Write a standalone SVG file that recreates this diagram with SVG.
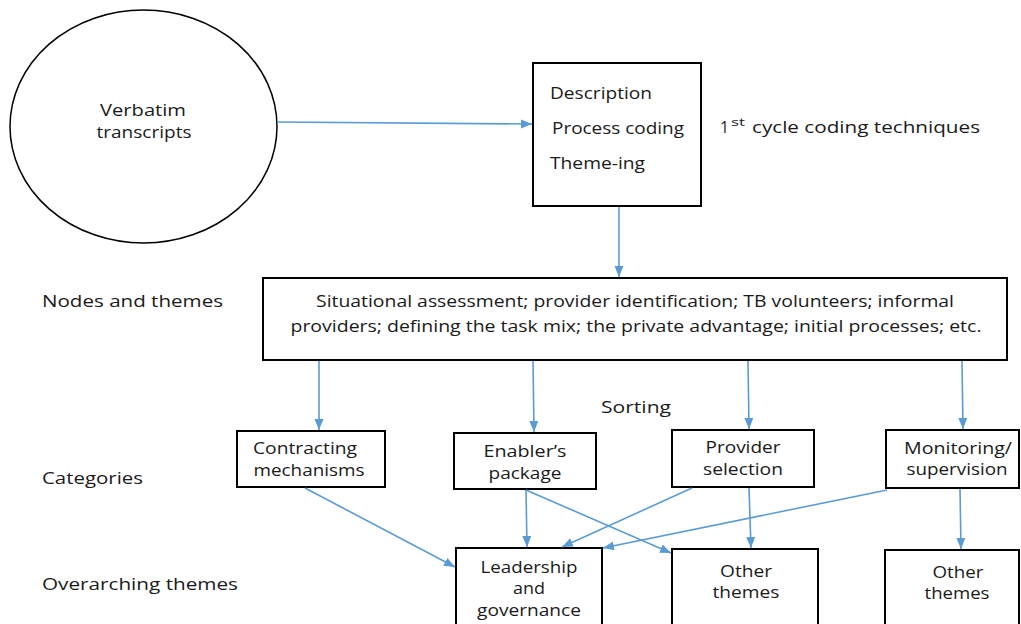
<svg xmlns="http://www.w3.org/2000/svg" width="1021" height="624" viewBox="0 0 1021 624">
<style>
.t{font-family:"Open Sans","DejaVu Sans",sans-serif;font-size:15.5px;fill:#1a1a1a}
.c{text-anchor:middle}
.box{fill:#fff;stroke:#000;stroke-width:2}
.ln{stroke:#5B9BD5;stroke-width:1.6;fill:none;marker-end:url(#ah)}
</style>
<defs>
<marker id="ah" markerUnits="userSpaceOnUse" markerWidth="12" markerHeight="10" refX="11" refY="4.5" orient="auto">
<path d="M0,0 L11,4.5 L0,9 z" fill="#5B9BD5"/>
</marker>
</defs>
<rect width="1021" height="624" fill="#fff"/>

<g id="labels">
<text class="t" x="42" y="307" textLength="181" lengthAdjust="spacingAndGlyphs">Nodes and themes</text>
<text class="t" x="42" y="484" textLength="101" lengthAdjust="spacingAndGlyphs">Categories</text>
<text class="t" x="42" y="590" textLength="196" lengthAdjust="spacingAndGlyphs">Overarching themes</text>
<text class="t" x="601" y="413" textLength="70" lengthAdjust="spacingAndGlyphs">Sorting</text>
<text class="t" x="720" y="133" textLength="9" lengthAdjust="spacingAndGlyphs">1</text>
<text class="t" x="731" y="126" style="font-size:11px" textLength="14" lengthAdjust="spacingAndGlyphs">st</text>
<text class="t" x="752" y="133" textLength="228" lengthAdjust="spacingAndGlyphs">cycle coding techniques</text>
</g>

<g id="verbatim">
<ellipse cx="143.5" cy="126.5" rx="133.5" ry="116.5" fill="#fff" stroke="#000" stroke-width="1.5"/>
<text class="t c" x="143" y="116" textLength="86" lengthAdjust="spacingAndGlyphs">Verbatim</text>
<text class="t c" x="144" y="138" textLength="95" lengthAdjust="spacingAndGlyphs">transcripts</text>
</g>

<g id="coding">
<rect class="box" x="533" y="63" width="168" height="143"/>
<text class="t" x="550" y="99" textLength="102" lengthAdjust="spacingAndGlyphs">Description</text>
<text class="t" x="552" y="134" textLength="132" lengthAdjust="spacingAndGlyphs">Process coding</text>
<text class="t" x="550" y="169" textLength="95" lengthAdjust="spacingAndGlyphs">Theme-ing</text>
</g>

<g id="nodes">
<rect class="box" x="263" y="278" width="744" height="82"/>
<text class="t c" x="635" y="307" textLength="638" lengthAdjust="spacingAndGlyphs">Situational assessment; provider identification; TB volunteers; informal</text>
<text class="t c" x="636" y="332" textLength="691" lengthAdjust="spacingAndGlyphs">providers; defining the task mix; the private advantage; initial processes; etc.</text>
</g>

<g id="contracting">
<rect class="box" x="237" y="431" width="148" height="56"/>
<text class="t c" x="305" y="454" textLength="104" lengthAdjust="spacingAndGlyphs">Contracting</text>
<text class="t c" x="309" y="476" textLength="111" lengthAdjust="spacingAndGlyphs">mechanisms</text>
</g>

<g id="enabler">
<rect class="box" x="454" y="433" width="142" height="56"/>
<text class="t c" x="525" y="457" textLength="83" lengthAdjust="spacingAndGlyphs">Enabler’s</text>
<text class="t c" x="525" y="479" textLength="73" lengthAdjust="spacingAndGlyphs">package</text>
</g>

<g id="provider">
<rect class="box" x="672" y="430" width="142" height="57"/>
<text class="t c" x="743" y="453" textLength="75" lengthAdjust="spacingAndGlyphs">Provider</text>
<text class="t c" x="743" y="475" textLength="80" lengthAdjust="spacingAndGlyphs">selection</text>
</g>

<g id="monitoring">
<rect class="box" x="886" y="430" width="133" height="58"/>
<text class="t c" x="958" y="454" textLength="108" lengthAdjust="spacingAndGlyphs">Monitoring/</text>
<text class="t c" x="957" y="475" textLength="101" lengthAdjust="spacingAndGlyphs">supervision</text>
</g>

<g id="leadership">
<rect class="box" x="456" y="548" width="146" height="90"/>
<text class="t c" x="529" y="573" textLength="97" lengthAdjust="spacingAndGlyphs">Leadership</text>
<text class="t c" x="529" y="594" textLength="32" lengthAdjust="spacingAndGlyphs">and</text>
<text class="t c" x="529" y="616" textLength="104" lengthAdjust="spacingAndGlyphs">governance</text>
</g>

<g id="other1">
<rect class="box" x="672" y="549" width="146" height="90"/>
<text class="t c" x="746" y="577" textLength="52" lengthAdjust="spacingAndGlyphs">Other</text>
<text class="t c" x="746" y="598" textLength="67" lengthAdjust="spacingAndGlyphs">themes</text>
</g>

<g id="other2">
<rect class="box" x="885" y="550" width="134" height="90"/>
<text class="t c" x="958" y="578" textLength="51" lengthAdjust="spacingAndGlyphs">Other</text>
<text class="t c" x="957" y="599" textLength="65" lengthAdjust="spacingAndGlyphs">themes</text>
</g>

<g id="connectors">
<line class="ln" x1="277" y1="122" x2="532" y2="124"/>
<line class="ln" x1="619" y1="207" x2="619" y2="277"/>
<line class="ln" x1="319" y1="361" x2="319" y2="430"/>
<line class="ln" x1="533" y1="361" x2="534" y2="432"/>
<line class="ln" x1="748" y1="361" x2="749" y2="429"/>
<line class="ln" x1="962" y1="361" x2="963" y2="429"/>
<line class="ln" x1="305" y1="488" x2="455" y2="567"/>
<line class="ln" x1="526" y1="490" x2="527" y2="547"/>
<line class="ln" x1="526" y1="490" x2="671" y2="553"/>
<line class="ln" x1="692" y1="488" x2="562" y2="547"/>
<line class="ln" x1="749" y1="488" x2="751" y2="548"/>
<line class="ln" x1="887" y1="490" x2="603" y2="548"/>
<line class="ln" x1="960" y1="489" x2="961" y2="549"/>
</g>
</svg>
